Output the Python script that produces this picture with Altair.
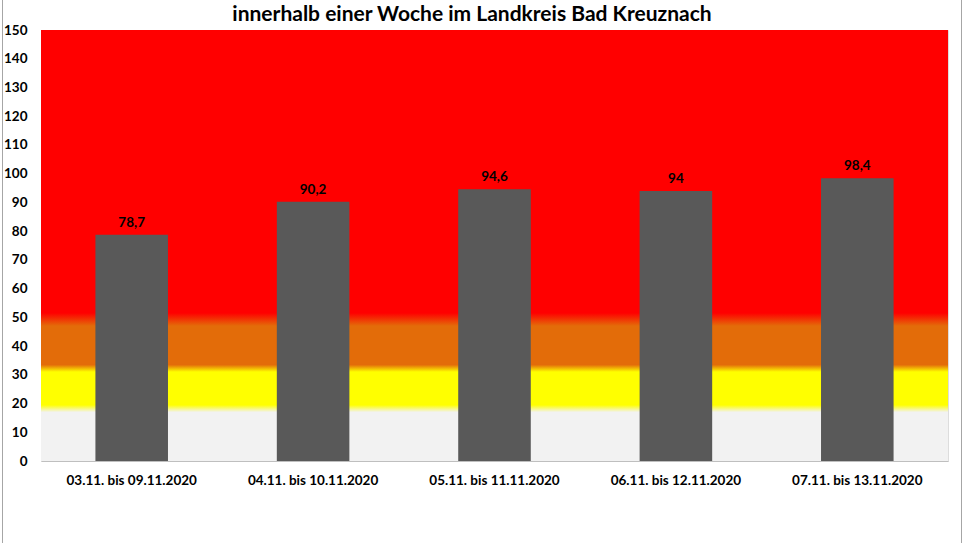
import altair as alt
import pandas as pd

title_text = "innerhalb einer Woche im Landkreis Bad Kreuznach"
periods = ["03.11. bis 09.11.2020", "04.11. bis 10.11.2020", "05.11. bis 11.11.2020",
           "06.11. bis 12.11.2020", "07.11. bis 13.11.2020"]
values = [78.7, 90.2, 94.6, 94, 98.4]
labels = ["78,7", "90,2", "94,6", "94", "98,4"]

y_max = 150
y_ticks = list(range(0, 151, 10))

# background zones: (value, colour) stops
zone_stops = [(150, "#ff0000"), (51.5, "#ff0000"), (47, "#e36c09"), (33.5, "#e36c09"),
              (31, "#ffff00"), (19.5, "#ffff00"), (17, "#f2f2f2"), (0, "#f2f2f2")]

W, H = 907, 431

df = pd.DataFrame({"period": periods, "value": values, "label": labels})
bg = pd.DataFrame({"lo": [0], "hi": [y_max], "title": [title_text]})

gradient = alt.Gradient(
    gradient="linear", x1=0, x2=0, y1=0, y2=1,
    stops=[alt.GradientStop(offset=(y_max - v) / y_max, color=c) for v, c in zone_stops],
)

yscale = alt.Scale(domain=[0, y_max], nice=False)
font = "Lato"
y_axis = alt.Axis(values=y_ticks, title=None, grid=False, domain=False, ticks=False,
                  labelOverlap=False, labelFont=font, labelFontWeight="bold",
                  labelFontSize=13.5, labelColor="#000000", labelPadding=14)
x_axis = alt.Axis(title=None, labelAngle=0, ticks=False, domainColor="#bfbfbf",
                  labelFont=font, labelFontWeight="bold", labelFontSize=13.5,
                  labelColor="#000000", labelPadding=12)

background = alt.Chart(bg).mark_rect(color=gradient).encode(
    x=alt.value(0), x2=alt.value(W),
    y=alt.Y("lo:Q", scale=yscale, axis=y_axis),
    y2="hi:Q",
)

bars = alt.Chart(df).mark_bar(color="#595959").encode(
    x=alt.X("period:N", sort=periods, scale=alt.Scale(paddingInner=0.6, paddingOuter=0.3),
            axis=x_axis),
    y=alt.Y("value:Q", scale=yscale, axis=y_axis),
)

text = alt.Chart(df).mark_text(baseline="alphabetic", dy=-8, font=font, fontWeight="bold",
                               fontSize=13.5, color="#000000").encode(
    x=alt.X("period:N", sort=periods, axis=x_axis),
    y=alt.Y("value:Q", scale=yscale, axis=y_axis),
    text="label:N",
)

title = alt.Chart(bg).mark_text(baseline="alphabetic", align="center", font=font,
                                fontWeight="bold", fontSize=21, color="#000000").encode(
    x=alt.value(472 - 41), y=alt.value(21 - 30), text="title:N")

frame_l = alt.Chart(bg).mark_rule(color="#a6a6a6", strokeWidth=1).encode(
    x=alt.value(-38.5), y=alt.value(-30), y2=alt.value(H + 82))
frame_r = alt.Chart(bg).mark_rule(color="#a6a6a6", strokeWidth=1).encode(
    x=alt.value(W + 13.5), y=alt.value(-30), y2=alt.value(H + 82))

chart = alt.layer(background, bars, text, title, frame_l, frame_r).properties(
    width=W, height=H,
    autosize=alt.AutoSizeParams(type="none"),
    padding={"left": 41, "top": 30, "right": 18, "bottom": 82},
).configure_view(stroke=None).configure(background="#ffffff")

chart.save("out.html", embed_options={"renderer": "svg", "actions": False})
